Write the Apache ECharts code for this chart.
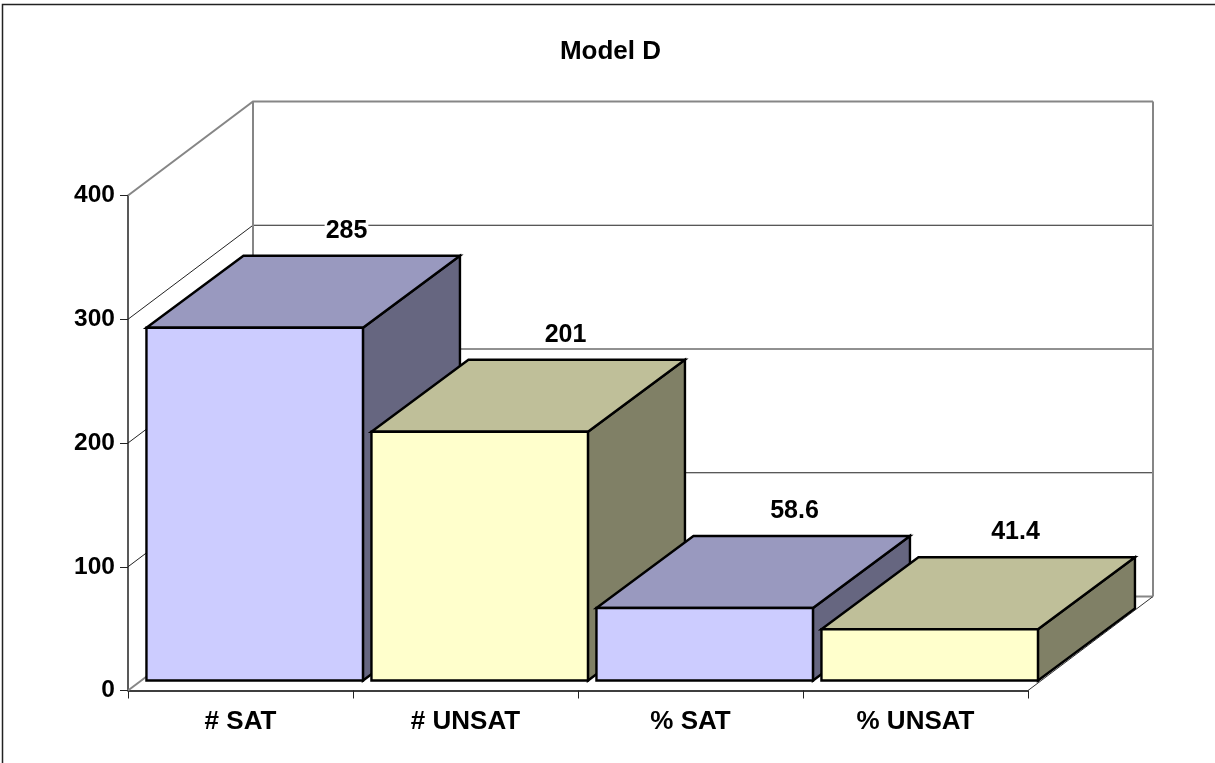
<!DOCTYPE html>
<html><head><meta charset="utf-8">
<style>html,body{margin:0;padding:0;background:#fff}#c{width:1215px;height:763px}</style>
<script src="https://cdn.jsdelivr.net/npm/echarts@6/dist/echarts.min.js"></script>
</head><body><div id="c"></div>
<script>
const categories = ['# SAT', '# UNSAT', '% SAT', '% UNSAT'];
const values = [285, 201, 58.6, 41.4];
const yTicks = [0, 100, 200, 300, 400];
const title = 'Model D';

const FONT = '"Liberation Sans", Arial, sans-serif';
const wallDX = 125, wallDY = -94;
const barDX = 97, barDY = -72, barFrontDX = 14.2, barFrontDY = -10, barW = 216.5;
const labelNudge = [-5.2, -11.2, -7.2, -11.2];
const skins = [
  {front:'#CCCCFF', top:'#9999BF', side:'#666680'},
  {front:'#FFFFCC', top:'#BFBF99', side:'#808066'}
];
const GRAY = '#868686';

function poly(pts, fill, stroke, w) {
  return {type:'polygon', shape:{points:pts}, style:{fill:fill, stroke:stroke, lineWidth:w, lineJoin:'miter'}};
}
function line(pts, stroke, w) {
  return {type:'polyline', shape:{points:pts}, style:{fill:'none', stroke:stroke, lineWidth:w}};
}

function renderWall(params, api) {
  const cs = params.coordSys;
  const v = api.value(0);
  const y = api.coord([0, v])[1];
  const x0 = cs.x, x1 = cs.x + cs.width;
  const kids = [];
  const by = y + wallDY, lx = x0 + wallDX, rx = x1 + wallDX;
  if (v === 0) {
    kids.push(line([[x0, y], [lx, by]], GRAY, 2));
    kids.push(line([[lx, by], [rx, by]], GRAY, 2));
    kids.push(line([[rx, by], [x1, y]], '#333', 1));
  } else if (v === 400) {
    kids.push(line([[x0, y], [lx, by], [rx, by]], GRAY, 2));
    const yb = api.coord([0, 0])[1] + wallDY;
    kids.push(line([[lx, by], [lx, yb]], GRAY, 2));
    kids.push(line([[rx, by], [rx, yb]], GRAY, 2));
  } else {
    kids.push(line([[x0, y], [lx, by], [rx, by]], '#222', 1));
  }
  return {type:'group', children:kids};
}

function renderBar(params, api) {
  const i = api.value(0), v = api.value(1);
  const c = api.coord([i, v]), b = api.coord([i, 0]);
  const l = c[0] + barFrontDX - barW / 2, r = l + barW;
  const t = c[1] + barFrontDY, bt = b[1] + barFrontDY;
  const s = skins[i % 2];
  return {type:'group', children:[
    poly([[r,t],[r+barDX,t+barDY],[r+barDX,bt+barDY],[r,bt]], s.side, '#000', 2.4),
    poly([[l,t],[l+barDX,t+barDY],[r+barDX,t+barDY],[r,t]], s.top, '#000', 2.4),
    poly([[l,t],[r,t],[r,bt],[l,bt]], s.front, '#000', 2.4)
  ]};
}

function renderLabel(params, api) {
  const i = api.value(0), v = api.value(1);
  const c = api.coord([i, v]);
  return {type:'text', style:{
    x: c[0] + barFrontDX + barDX + labelNudge[i],
    y: c[1] + barFrontDY + barDY - 25,
    text: String(v), align:'center', verticalAlign:'middle',
    font: 'bold 25px ' + FONT, fill:'#000',
    backgroundColor:'#fff', padding:[0, 1]
  }};
}

const barData = values.map((v, i) => [i, v]);
const chart = echarts.init(document.getElementById('c'), null, {renderer:'canvas'});
chart.setOption({
  animation:false,
  backgroundColor:'#fff',
  title:{text:title, left:605.5, top:34, textAlign:'center',
    textStyle:{fontFamily:FONT, fontWeight:'bold', fontSize:26, color:'#000'}},
  grid:{left:128, top:195.5, width:900, height:495},
  xAxis:{type:'category', data:categories,
    axisLine:{lineStyle:{color:'#000', width:1.5}},
    axisTick:{show:true, length:8, alignWithLabel:false, lineStyle:{color:'#222', width:1}},
    axisLabel:{fontFamily:FONT, fontWeight:'bold', fontSize:26, color:'#000', margin:18},
    splitLine:{show:false}},
  yAxis:{type:'value', min:0, max:400, interval:100,
    axisLine:{show:true, lineStyle:{color:'#222', width:1.5}},
    axisTick:{show:true, length:8, lineStyle:{color:'#222', width:1}},
    axisLabel:{fontFamily:FONT, fontWeight:'bold', fontSize:24.5, color:'#000', margin:13, padding:[6,0,0,0]},
    splitLine:{show:false}},
  graphic:[{type:'polyline', silent:true, z:-1,
    shape:{points:[[2.5,763],[2.5,4.5],[1215,4.5]]},
    style:{fill:'none', stroke:'#222', lineWidth:1.5}}],
  series:[
    {type:'custom', coordinateSystem:'cartesian2d', data:yTicks.map(v=>[v]),
     encode:{y:0}, renderItem:renderWall, z:1, silent:true},
    {type:'custom', coordinateSystem:'cartesian2d', data:barData,
     encode:{x:0,y:1}, renderItem:renderBar, z:3, silent:true},
    {type:'custom', coordinateSystem:'cartesian2d', data:barData,
     encode:{x:0,y:1}, renderItem:renderLabel, z:2, silent:true}
  ]
});
</script></body></html>
